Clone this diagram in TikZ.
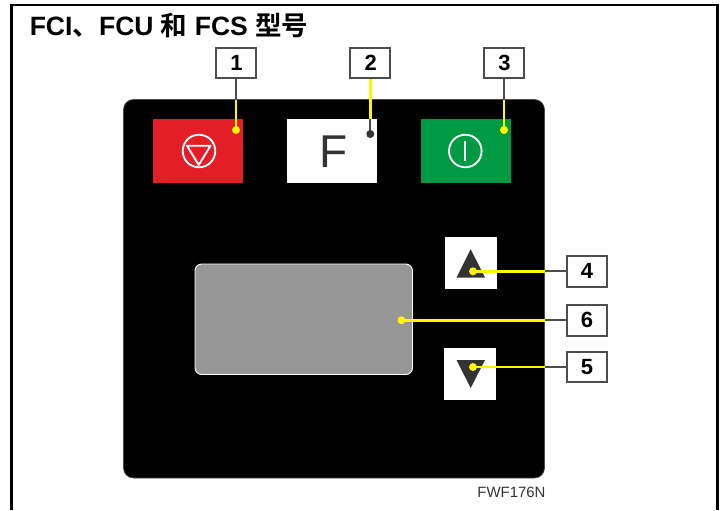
\documentclass[tikz,border=0pt]{standalone}
\usepackage{fontspec}
\setmainfont{Liberation Sans}
\newfontfamily\cjkbold[BoldFont={Noto Sans CJK SC Bold}]{Noto Sans CJK SC}
\definecolor{ledgrey}{HTML}{4D4D4D}
\definecolor{dispgrey}{HTML}{969696}
\definecolor{stopred}{HTML}{E31E26}
\definecolor{gogreen}{HTML}{009A44}
\definecolor{ledyellow}{HTML}{FFF600}
\definecolor{ink}{HTML}{333333}
\tikzset{
  x=0.75pt,y=-0.75pt,
  numbox/.style={draw=ledgrey,line width=1.5pt,fill=white,minimum width=30pt,minimum height=22.8pt,inner sep=0pt,font=\fontsize{16.5}{17}\selectfont\bfseries,text=black},
  leaddark/.style={draw=ledgrey,line width=1.3pt},
  leadyellow/.style={draw=ledyellow,line width=1.9pt},
  icon/.style={draw=white,line width=1.4pt}
}
\begin{document}
\begin{tikzpicture}
\useasboundingbox (0,0) rectangle (723,510);
% frame
\draw[black,line width=2pt] (11.5,510) -- (11.5,5) -- (717.7,5) -- (717.7,510);
\node[anchor=base west,inner sep=0pt,font=\fontsize{19.9}{21}\selectfont\bfseries] (title) at (29.5,35.5) {FCI{\cjkbold\bfseries 、}FCU {\cjkbold\bfseries 和} FCS {\cjkbold\bfseries 型号}};
% panel
\draw[draw=black!70,line width=0.5pt,fill=black,rounded corners=7.5pt] (123.5,99.5) rectangle (544.5,478);
% keys
\fill[stopred] (153,119) rectangle (243,183);
\fill[white] (287,119) rectangle (377,183);
\fill[gogreen] (421,119) rectangle (511,183);
\fill[white] (445,237) rectangle (497,289);
\fill[white] (444,348) rectangle (496,400);
% icons
\draw[icon] (199,151) circle (16.3);
\draw[icon,line join=round] (187,145.7) -- (210.6,145.7) -- (198.7,165) -- cycle;
\draw[icon] (465.3,151) circle (16.3);
\draw[icon] (465.3,140.7) -- (465.3,160.7);
\node[anchor=base west,inner sep=0pt,text=ink,font=\fontsize{34.5}{36}\selectfont] (fkey) at (319,167) {F};
\fill[ink] (470.7,249.3) -- (485,277.5) -- (456.5,277.5) -- cycle;
\fill[ink] (470.7,388) -- (485,360) -- (456.5,360) -- cycle;
% display
\draw[draw=white,line width=0.7pt,fill=dispgrey,rounded corners=5pt] (195,264) rectangle (412.5,374.5);
% label boxes
\node[numbox] (n1) at (236,63) {\hspace{0.8pt}1};
\node[numbox] (n2) at (370.3,63) {\hspace{0.8pt}2};
\node[numbox] (n3) at (504,63) {\hspace{0.8pt}3};
\node[numbox] (n4) at (586.5,271.3) {\hspace{0.8pt}4};
\node[numbox] (n6) at (586.5,320.3) {\hspace{0.8pt}6};
\node[numbox] (n5) at (586.5,367) {\hspace{0.8pt}5};
% leader points
\coordinate (e1) at (236,99.5);   \coordinate (d1) at (236,130);
\coordinate (e2) at (370.3,119);  \coordinate (d2) at (370.3,134);
\coordinate (e3) at (504,99.5);   \coordinate (d3) at (504,130);
\coordinate (e4) at (544.5,271.3); \coordinate (d4) at (473,271.3);
\coordinate (e6) at (544.5,320.3); \coordinate (d6) at (401.5,320.3);
\coordinate (e5) at (544.5,367);   \coordinate (d5) at (473,367);
\draw[leaddark] (n1.south) -- (e1);
\draw[leadyellow] (e1) -- (d1);
\draw[leadyellow] (n2.south) -- (e2);
\draw[leaddark] (e2) -- (d2);
\draw[leaddark] (n3.south) -- (e3);
\draw[leadyellow] (e3) -- (d3);
\draw[leaddark] (n4.west) -- (e4);
\draw[leadyellow] (e4) -- (d4);
\draw[leaddark] (n6.west) -- (e6);
\draw[leadyellow] (e6) -- (d6);
\draw[leaddark] (n5.west) -- (e5);
\draw[leadyellow] (e5) -- (d5);
\foreach \p in {d1,d3,d4,d5,d6} \fill[ledyellow] (\p) circle (4);
\fill[ink] (d2) circle (4);
\node[anchor=base east,inner sep=0pt,text=ink,font=\fontsize{11.2}{12}\selectfont] (code) at (545.7,497.5) {FWF176N};
\end{tikzpicture}
\end{document}
